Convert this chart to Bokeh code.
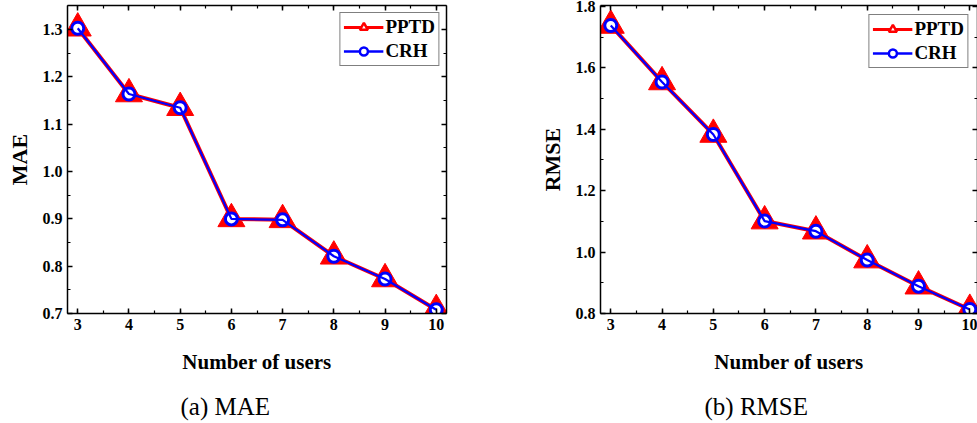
from bokeh.plotting import figure
from bokeh.layouts import row
from bokeh.models import (LinearAxis, Range1d, SingleIntervalTicker, Legend,
                          LegendItem, Title, PrintfTickFormatter,
                          CustomJSTickFormatter)
from bokeh.embed import file_html
from bokeh.resources import INLINE

# Number of participating users
users = [3, 4, 5, 6, 7, 8, 9, 10]

# Mean absolute error
mae_pptd = [1.303, 1.164, 1.135, 0.900, 0.898, 0.821, 0.773, 0.708]
mae_crh = [1.303, 1.164, 1.135, 0.900, 0.898, 0.821, 0.773, 0.708]

# Root mean squared error
rmse_pptd = [1.738, 1.554, 1.383, 1.101, 1.068, 0.974, 0.889, 0.813]
rmse_crh = [1.738, 1.554, 1.383, 1.101, 1.068, 0.974, 0.889, 0.813]

series_names = ["PPTD", "CRH"]
x_title = "Number of users"

FONT = "Liberation Serif"
NAN = float("nan")


def blank_labels(ax):
    ax.formatter = CustomJSTickFormatter(code="return ''")
    ax.major_label_text_font_size = "1px"
    ax.major_label_standoff = 0


def style_axis(ax, ticker, labels=True, fmt=None):
    ax.ticker = ticker
    ax.axis_line_color = "black"
    ax.axis_line_width = 1.5
    ax.major_tick_in = 5
    ax.major_tick_out = 0
    ax.minor_tick_in = 3
    ax.minor_tick_out = 0
    ax.major_tick_line_color = "black"
    ax.minor_tick_line_color = "black"
    ax.major_tick_line_width = 1.5
    ax.minor_tick_line_width = 1.2
    ax.major_label_text_font = FONT
    ax.major_label_text_font_style = "bold"
    ax.major_label_text_color = "black"
    if labels:
        if fmt is not None:
            ax.formatter = PrintfTickFormatter(format=fmt)
        ax.major_label_text_font_size = "16px"
        ax.major_label_standoff = 5
    else:
        # mirrored frame ticks only, no numbers
        blank_labels(ax)


def panel(metric, caption, pptd, crh, y_lo, y_hi, y_step, x_hi, width,
          border_left, border_right, legend_margin, caption_offset):
    p = figure(width=width, height=423,
               x_range=Range1d(2.8, x_hi), y_range=Range1d(y_lo, y_hi),
               output_backend="svg", toolbar_location=None,
               min_border_left=border_left, min_border_right=border_right,
               min_border_top=5, min_border_bottom=109)
    p.title.visible = False
    p.grid.visible = False
    p.outline_line_color = None
    p.background_fill_color = "white"
    p.border_fill_color = "white"

    p.add_layout(LinearAxis(), "above")
    p.add_layout(LinearAxis(), "right")

    x_tick = SingleIntervalTicker(interval=1, num_minor_ticks=2)
    y_tick = SingleIntervalTicker(interval=y_step, num_minor_ticks=2)
    for ax in p.below + p.above:
        if isinstance(ax, LinearAxis):
            style_axis(ax, x_tick, labels=(ax in p.below))
    for ax in p.left + p.right:
        if isinstance(ax, LinearAxis):
            style_axis(ax, y_tick, labels=(ax in p.left), fmt="%.1f")

    xa = p.below[0]
    xa.axis_label = x_title
    xa.axis_label_text_font = FONT
    xa.axis_label_text_font_style = "bold"
    xa.axis_label_text_font_size = "21px"
    xa.axis_label_text_color = "black"
    xa.axis_label_standoff = 17

    ya = p.left[0]
    ya.axis_label = metric
    ya.axis_label_text_font = FONT
    ya.axis_label_text_font_style = "bold"
    ya.axis_label_text_font_size = "22px"
    ya.axis_label_text_color = "black"
    ya.axis_label_standoff = 8

    # PPTD: red line with solid triangles
    p.line(users, pptd, line_color="red", line_width=4)
    p.scatter(users, pptd, marker="triangle", size=27, fill_color="red",
              line_color="red", line_width=1)
    # CRH: blue line with hollow circles drawn over PPTD
    p.scatter(users, crh, marker="circle", size=12, fill_color="white",
              line_color="blue", line_width=3)
    p.line(users, crh, line_color="blue", line_width=2.2)

    # hollow legend symbols
    leg_tri = p.scatter([NAN], [NAN], marker="triangle", size=20,
                        fill_color="white", line_color="red", line_width=2.5)
    leg_circ = p.scatter([NAN], [NAN], marker="circle", size=12,
                         fill_color="white", line_color="blue", line_width=2.5)
    leg_red = p.line([NAN], [NAN], line_color="red", line_width=3)
    leg_blue = p.line([NAN], [NAN], line_color="blue", line_width=2.5)

    legend = Legend(items=[
        LegendItem(label=series_names[0], renderers=[leg_red, leg_tri]),
        LegendItem(label=series_names[1], renderers=[leg_blue, leg_circ]),
    ])
    legend.location = "top_right"
    legend.margin = legend_margin
    legend.padding = 3
    legend.spacing = 2
    legend.glyph_width = 40
    legend.glyph_height = 20
    legend.label_height = 20
    legend.label_standoff = 2
    legend.label_text_font = FONT
    legend.label_text_font_style = "bold"
    legend.label_text_font_size = "19px"
    legend.label_text_color = "black"
    legend.border_line_color = "black"
    legend.border_line_width = 1
    legend.background_fill_color = "white"
    legend.background_fill_alpha = 1
    p.add_layout(legend)

    # invisible gap between the x-axis title and the caption
    gap = LinearAxis(ticker=x_tick, axis_line_color=None,
                     major_tick_line_color=None, minor_tick_line_color=None,
                     major_tick_in=0, major_tick_out=10,
                     minor_tick_in=0, minor_tick_out=0)
    blank_labels(gap)
    p.add_layout(gap, "below")

    p.add_layout(Title(text=caption, align="left", offset=caption_offset,
                       text_font=FONT, text_font_style="normal",
                       text_font_size="25px", text_color="black",
                       standoff=8), "below")
    return p


p1 = panel("MAE", "(a) MAE", mae_pptd, mae_crh, 0.7, 1.351, 0.1, 10.2,
           520, 67, 74, 7, 113)
p2 = panel("RMSE", "(b) RMSE", rmse_pptd, rmse_crh, 0.8, 1.803, 0.2, 10.15,
           457, 80, 0, 9, 104)

layout = row(p1, p2)
open("out.html", "w").write(file_html(layout, INLINE))
